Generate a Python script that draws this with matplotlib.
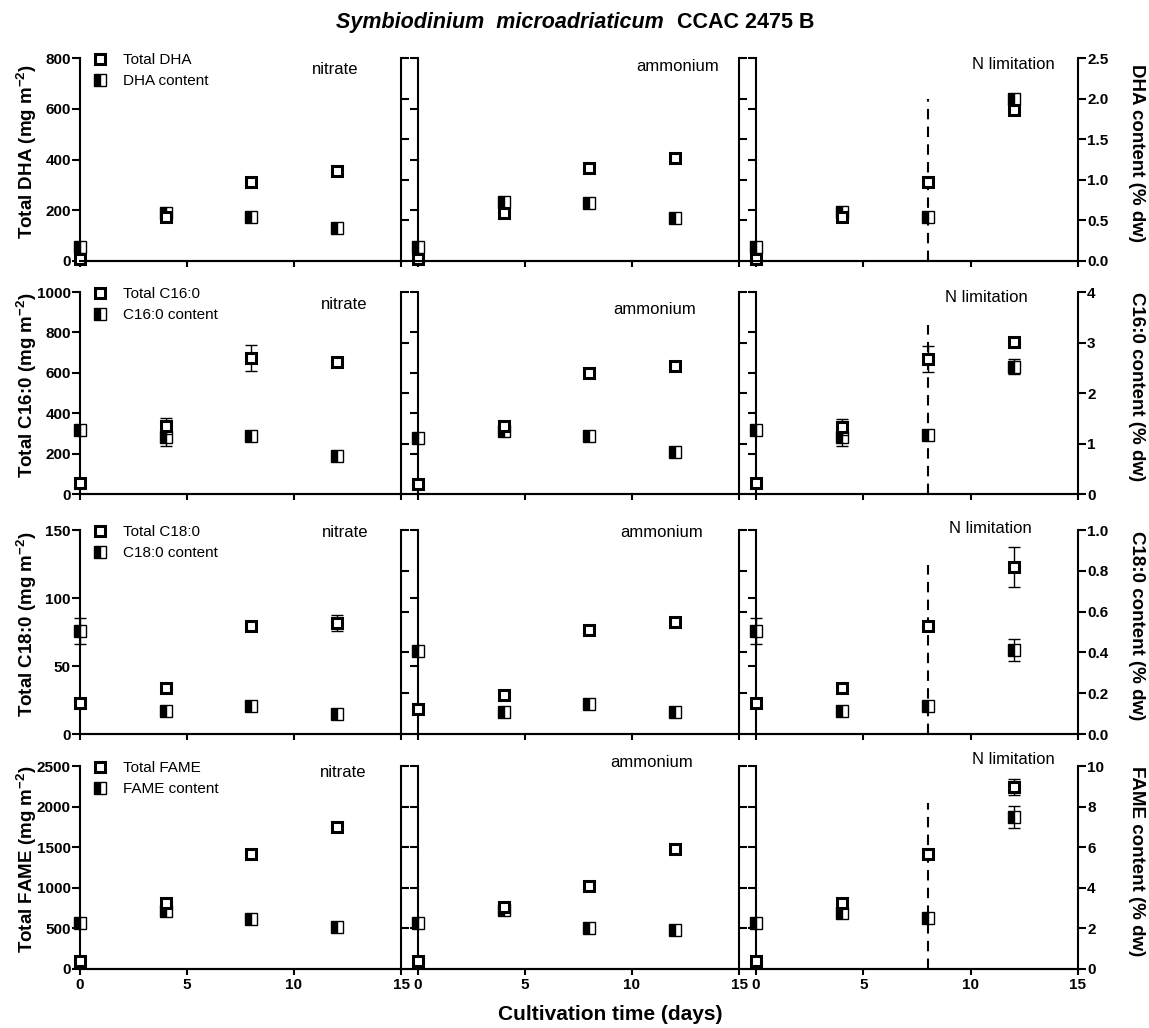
import numpy as np
import matplotlib.pyplot as plt
from matplotlib.lines import Line2D
from matplotlib.ticker import FormatStrFormatter

plt.rcParams['font.family'] = ['Liberation Sans', 'DejaVu Sans']
plt.rcParams['font.weight'] = 'bold'
plt.rcParams['mathtext.fontset'] = 'custom'
plt.rcParams['mathtext.rm'] = 'Liberation Sans:bold'
plt.rcParams['mathtext.bf'] = 'Liberation Sans:bold'
plt.rcParams['axes.linewidth'] = 1.5

days = [0, 4, 8, 12]
conditions = ['nitrate', 'ammonium', 'N limitation']
no_err = [0, 0, 0, 0]

# DHA
dha_total_nitrate = [8, 173, 311, 355]
dha_total_ammonium = [8, 189, 367, 406]
dha_total_nlim = [8, 173, 311, 595]
dha_content_nitrate = [0.17, 0.59, 0.54, 0.41]
dha_content_ammonium = [0.17, 0.73, 0.71, 0.53]
dha_content_nlim = [0.17, 0.6, 0.54, 2.0]

# C16:0
c16_total_nitrate = [54, 337, 673, 653]
c16_total_ammonium = [50, 337, 599, 634]
c16_total_nlim = [54, 332, 668, 752]
c16_total_err_nitrate = [0, 40, 65, 0]
c16_total_err_nlim = [0, 40, 64, 0]
c16_content_nitrate = [1.27, 1.13, 1.15, 0.75]
c16_content_ammonium = [1.11, 1.25, 1.15, 0.83]
c16_content_nlim = [1.27, 1.13, 1.17, 2.52]
c16_content_err_nitrate = [0, 0.17, 0, 0]
c16_content_err_nlim = [0, 0.17, 0, 0.15]

# C18:0
c18_total_nitrate = [22.8, 33.8, 79.4, 81.6]
c18_total_ammonium = [18.4, 28.7, 76.5, 82.4]
c18_total_nlim = [22.8, 33.8, 79.4, 122.8]
c18_total_err_nitrate = [0, 0, 3, 6]
c18_total_err_nlim = [0, 0, 3, 14.7]
c18_content_nitrate = [0.505, 0.113, 0.137, 0.098]
c18_content_ammonium = [0.407, 0.108, 0.147, 0.108]
c18_content_nlim = [0.505, 0.113, 0.137, 0.41]
c18_content_err_nitrate = [0.065, 0, 0, 0]
c18_content_err_nlim = [0.065, 0, 0, 0.054]

# FAME
fame_total_nitrate = [98, 812, 1416, 1749]
fame_total_ammonium = [98, 763, 1022, 1478]
fame_total_nlim = [100, 812, 1416, 2241]
fame_total_err_nlim = [0, 0, 0, 100]
fame_content_nitrate = [2.27, 2.86, 2.46, 2.07]
fame_content_ammonium = [2.27, 2.9, 2.02, 1.92]
fame_content_nlim = [2.27, 2.76, 2.51, 7.49]
fame_content_err = [0.25, 0, 0, 0]
fame_content_err_nlim = [0.25, 0, 0, 0.52]

# top of the dashed N limitation marker (content units)
nlim_dash_top = [2.0, 3.35, 0.83, 8.2]

panels = [
    dict(name='DHA', ymax=800, ystep=200, cmax=2.5, cstep=0.5, cfmt='%.1f',
         total=[dha_total_nitrate, dha_total_ammonium, dha_total_nlim],
         total_err=[no_err, no_err, no_err],
         content=[dha_content_nitrate, dha_content_ammonium, dha_content_nlim],
         content_err=[no_err, no_err, no_err]),
    dict(name='C16:0', ymax=1000, ystep=200, cmax=4, cstep=1, cfmt='%d',
         total=[c16_total_nitrate, c16_total_ammonium, c16_total_nlim],
         total_err=[c16_total_err_nitrate, no_err, c16_total_err_nlim],
         content=[c16_content_nitrate, c16_content_ammonium, c16_content_nlim],
         content_err=[c16_content_err_nitrate, no_err, c16_content_err_nlim]),
    dict(name='C18:0', ymax=150, ystep=50, cmax=1.0, cstep=0.2, cfmt='%.1f',
         total=[c18_total_nitrate, c18_total_ammonium, c18_total_nlim],
         total_err=[c18_total_err_nitrate, no_err, c18_total_err_nlim],
         content=[c18_content_nitrate, c18_content_ammonium, c18_content_nlim],
         content_err=[c18_content_err_nitrate, no_err, c18_content_err_nlim]),
    dict(name='FAME', ymax=2500, ystep=500, cmax=10, cstep=2, cfmt='%d',
         total=[fame_total_nitrate, fame_total_ammonium, fame_total_nlim],
         total_err=[no_err, no_err, fame_total_err_nlim],
         content=[fame_content_nitrate, fame_content_ammonium, fame_content_nlim],
         content_err=[fame_content_err, fame_content_err, fame_content_err_nlim]),
]

# pixel layout of the 4x3 grid
W, H = 1149, 1028
col_x = [(80, 401), (418, 739), (756, 1078)]
row_y = [(58, 261), (292, 494), (530, 734), (766, 969)]
cond_pos = [
    [(0.794, 0.941), (0.81, 0.956), (0.798, 0.966)],
    [(0.822, 0.936), (0.738, 0.911), (0.714, 0.975)],
    [(0.826, 0.990), (0.760, 0.990), (0.727, 1.005)],
    [(0.819, 0.966), (0.729, 1.015), (0.798, 1.03)],
]

total_style = dict(marker='s', ms=7.5, mfc='white', mec='black', mew=2.2)
content_style = dict(marker='s', ms=8.3, fillstyle='left', mfc='black',
                     mfcalt='white', mec='black', mew=1.0)


def draw_series(axis, y, err, style):
    pts = [(d, v, e) for d, v, e in zip(days, y, err) if e > 0]
    if pts:
        xs, ys, es = zip(*pts)
        eb = axis.errorbar(xs, ys, yerr=es, fmt='none', ecolor='black',
                           elinewidth=1, capsize=4.3, capthick=1)
        for a in eb.get_children():
            a.set_clip_on(False)
    axis.plot(days, y, ls='none', clip_on=False, zorder=3, **style)


fig = plt.figure(figsize=(W / 100, H / 100), dpi=100)

for r, p in enumerate(panels):
    top, bottom = row_y[r]
    for c in range(3):
        left, right = col_x[c]
        ax = fig.add_axes([left / W, 1 - bottom / H, (right - left) / W, (bottom - top) / H])
        ax2 = ax.twinx()
        ax.set_zorder(ax2.get_zorder() + 1)      # totals drawn above contents
        ax.patch.set_visible(False)

        ax.set_xlim(0, 15)
        ax.set_xticks([0, 5, 10, 15])
        ax.set_ylim(0, p['ymax'])
        ax.set_yticks(np.arange(0, p['ymax'] + 1e-9, p['ystep']))
        ax2.set_ylim(0, p['cmax'])
        ax2.set_yticks(np.arange(0, p['cmax'] + 1e-9, p['cstep']))
        ax2.yaxis.set_major_formatter(FormatStrFormatter(p['cfmt']))

        for s in ['top', 'right']:
            ax.spines[s].set_visible(False)
        for s in ['top', 'left', 'bottom']:
            ax2.spines[s].set_visible(False)

        ax.tick_params(axis='y', direction='out', length=5.5, width=1.5,
                       labelsize=11, pad=1, labelleft=(c == 0))
        ax.tick_params(axis='x', direction='out', length=4.5, width=1.5,
                       labelsize=11, pad=2, labelbottom=(r == 3))
        ax2.tick_params(axis='y', direction='out', length=5.5, width=1.5,
                        labelsize=11, pad=1, labelright=(c == 2))

        draw_series(ax2, p['content'][c], p['content_err'][c], content_style)
        draw_series(ax, p['total'][c], p['total_err'][c], total_style)

        if c == 2:
            ax2.plot([8, 8], [0, nlim_dash_top[r]], color='black', lw=1.5,
                     ls=(0, (5, 3.5)), zorder=1)

        cx, cy = cond_pos[r][c]
        ax.text(cx, cy, conditions[c], transform=ax.transAxes, ha='center',
                va='center', fontsize=12, fontweight='normal')

        if c == 0:
            handles = [Line2D([], [], ls='none', **total_style),
                       Line2D([], [], ls='none', **content_style)]
            ax.legend(handles, ['Total ' + p['name'], p['name'] + ' content'],
                      loc='upper left', bbox_to_anchor=(0.039, 1.023),
                      frameon=False, borderpad=0, borderaxespad=0,
                      handlelength=1.0, handletextpad=1.0, labelspacing=0.45,
                      prop={'size': 11, 'weight': 'normal'})

    # x axis runs unbroken under all three panels
    fig.add_artist(Line2D([80 / W, 1078 / W], [1 - bottom / H] * 2,
                          color='black', lw=1.5))

    mid = (top + bottom) / 2
    fig.text(27 / W, 1 - (mid - 8) / H, 'Total %s (mg m$^{-2}$)' % p['name'],
             rotation=90, ha='center', va='center', fontsize=13.5)
    fig.text(1136 / W, 1 - (mid - 6) / H, '%s content (%% dw)' % p['name'],
             rotation=-90, ha='center', va='center', fontsize=13.5)

fig.text(664 / W, 1 - 28 / H, 'Symbiodinium  microadriaticum', ha='right',
         va='baseline', style='italic', fontsize=15.5)
fig.text(677 / W, 1 - 28 / H, 'CCAC 2475 B', ha='left', va='baseline', fontsize=15.5)
fig.text(610 / W, 1 - 1014 / H, 'Cultivation time (days)', ha='center',
         va='center', fontsize=15)

fig.savefig('out.png', dpi=100)
